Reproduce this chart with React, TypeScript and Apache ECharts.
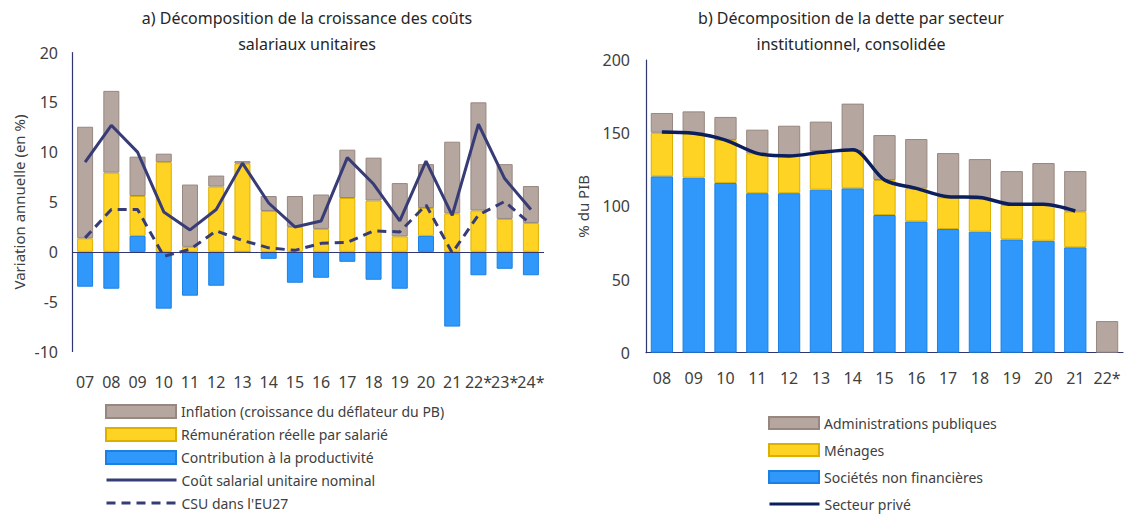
import React, { useEffect, useRef } from "react";
import * as echarts from "echarts";

// ---- Left chart data (a) ----
const catsA = ["07", "08", "09", "10", "11", "12", "13", "14", "15", "16", "17", "18", "19", "20", "21", "22*", "23*", "24*"];
const productivite = [-3.5, -3.7, 1.6, -5.7, -4.4, -3.4, 0, -0.7, -3.1, -2.6, -1.0, -2.8, -3.7, 1.6, -7.5, -2.35, -1.7, -2.35];
const remuneration = [1.35, 7.95, 4.0, 9.0, 0.5, 6.55, 8.85, 4.1, 2.5, 2.3, 5.4, 5.15, 1.55, 2.8, 3.85, 4.15, 3.3, 2.9];
const inflation = [11.2, 8.2, 3.95, 0.85, 6.25, 1.1, 0.25, 1.5, 3.1, 3.45, 4.85, 4.3, 5.35, 4.4, 7.2, 10.85, 5.5, 3.7];
const csuNominal = [9.0, 12.7, 10.0, 4.0, 2.2, 4.25, 8.9, 4.9, 2.5, 3.1, 9.45, 6.8, 3.1, 9.1, 3.65, 12.8, 7.35, 4.25];
const csuEU27 = [1.4, 4.25, 4.25, -0.45, 0.25, 2.1, 1.15, 0.4, 0.15, 0.85, 0.95, 2.1, 2.0, 4.7, -0.1, 3.7, 5.05, 2.75];
const legendA = [
  "Inflation (croissance du déflateur du PB)",
  "Rémunération réelle par salarié",
  "Contribution à la productivité",
  "Coût salarial unitaire nominal",
  "CSU dans l'EU27",
];

// ---- Right chart data (b) ----
const catsB = ["08", "09", "10", "11", "12", "13", "14", "15", "16", "17", "18", "19", "20", "21", "22*"];
const societes = [120.5, 119.6, 116, 109, 109, 111.4, 112.3, 94.1, 89.7, 84.5, 82.7, 77.4, 76.5, 72, null];
const menages = [29.8, 30.3, 29.4, 27.2, 26.1, 26.4, 25.5, 23.9, 22.6, 21.6, 22.3, 23.5, 24.4, 24.4, null];
const administrations = [13.5, 15.0, 15.7, 16.2, 20.0, 20.1, 32.4, 30.7, 33.7, 30.3, 27.3, 23.2, 28.7, 27.7, 21.6];
const secteurPrive = [150.8, 149.9, 145.3, 136.2, 134.4, 136.9, 138.7, 118, 112.3, 106.6, 106.1, 101.4, 101.4, 96.8, null];
const legendB = ["Administrations publiques", "Ménages", "Sociétés non financières", "Secteur privé"];

const FONT = "Noto Sans";
const TXT = "#404040";
const AXIS = "#2f3670";
const GREY = "#b5a69f";
const GREY_B = "#978780";
const YEL = "#ffd324";
const YEL_B = "#dcb000";
const BLUE = "#2f98fa";
const BLUE_B = "#1b80e2";
const NAVY_A = "#373c77";
const NAVY_B = "#0c1f5c";

const lineNames = new Set(["Coût salarial unitaire nominal", "CSU dans l'EU27", "Secteur privé"]);

function legendItem(name: string, left: number, top: number, w: number, h: number) {
  const l: any = {
    left,
    top,
    itemWidth: w,
    itemHeight: h,
    textStyle: { fontFamily: FONT, fontSize: 14, color: TXT },
  };
  if (lineNames.has(name)) {
    l.itemStyle = { opacity: 0 };
    l.lineStyle = { width: 3 };
    l.data = [name];
  } else {
    l.data = [{ name, icon: "rect" }];
  }
  return l;
}

export default function App() {
  const ref = useRef<HTMLDivElement>(null);
  useEffect(() => {
    if (!ref.current) return;
    const chart = echarts.init(ref.current, undefined, { renderer: "svg" });
    const legends: any[] = [];
    legendA.forEach((name, i) => legends.push(legendItem(name, 100, 399 + i * 23, 70, 13)));
    legendB.forEach((name, i) => legends.push(legendItem(name, 763, 411 + i * 27, 50, 12)));
    const option: any = {
      animation: false,
      textStyle: { fontFamily: FONT, color: TXT },
      title: [
        {
          text: "a) Décomposition de la croissance des coûts\nsalariaux unitaires",
          left: 302,
          top: 0,
          textAlign: "center",
          textStyle: { fontFamily: FONT, fontSize: 16, fontWeight: "normal", color: "#262626", lineHeight: 26, align: "center" },
        },
        {
          text: "b) Décomposition de la dette par secteur\ninstitutionnel, consolidée",
          left: 846,
          top: 0,
          textAlign: "center",
          textStyle: { fontFamily: FONT, fontSize: 16, fontWeight: "normal", color: "#262626", lineHeight: 26, align: "center" },
        },
      ],
      legend: legends,
      grid: [
        { left: 72, top: 52.5, width: 472, height: 299 },
        { left: 646, top: 60, width: 477, height: 292.7 },
      ],
      xAxis: [
        {
          type: "category",
          gridIndex: 0,
          data: catsA,
          axisLine: { show: false, onZero: false },
          axisTick: { show: false },
          axisLabel: { color: TXT, fontSize: 16, margin: 22, interval: 0, fontFamily: FONT },
        },
        {
          type: "category",
          gridIndex: 1,
          data: catsB,
          axisLine: { show: true, lineStyle: { color: AXIS, width: 1.2 } },
          axisTick: { show: false },
          axisLabel: { color: TXT, fontSize: 16, margin: 17, interval: 0, fontFamily: FONT },
        },
      ],
      yAxis: [
        {
          type: "value",
          gridIndex: 0,
          min: -10,
          max: 20,
          interval: 5,
          name: "Variation annuelle (en %)",
          nameLocation: "middle",
          nameGap: 46,
          nameTextStyle: { fontSize: 15, color: TXT, fontFamily: FONT },
          axisLine: { show: true, lineStyle: { color: AXIS, width: 1.2 } },
          axisTick: { show: false },
          splitLine: { show: false },
          axisLabel: { color: TXT, fontSize: 16, margin: 14, fontFamily: FONT },
        },
        {
          type: "value",
          gridIndex: 1,
          min: 0,
          max: 200,
          interval: 50,
          name: "% du PIB",
          nameLocation: "middle",
          nameGap: 56,
          nameTextStyle: { fontSize: 15, color: TXT, fontFamily: FONT },
          axisLine: { show: true, lineStyle: { color: AXIS, width: 1.2 } },
          axisTick: { show: false },
          splitLine: { show: false },
          axisLabel: { color: TXT, fontSize: 16, margin: 16, fontFamily: FONT },
        },
      ],
      series: [
        {
          name: "Contribution à la productivité",
          type: "bar",
          stack: "a",
          xAxisIndex: 0,
          yAxisIndex: 0,
          barWidth: "61%",
          data: productivite,
          itemStyle: { color: BLUE, borderColor: BLUE_B, borderWidth: 1 },
          markLine: {
            silent: true,
            symbol: "none",
            label: { show: false },
            lineStyle: { color: AXIS, width: 1.2, type: "solid" },
            data: [{ yAxis: 0 }],
          },
        },
        {
          name: "Rémunération réelle par salarié",
          type: "bar",
          stack: "a",
          xAxisIndex: 0,
          yAxisIndex: 0,
          barWidth: "61%",
          data: remuneration,
          itemStyle: { color: YEL, borderColor: YEL_B, borderWidth: 1 },
        },
        {
          name: "Inflation (croissance du déflateur du PB)",
          type: "bar",
          stack: "a",
          xAxisIndex: 0,
          yAxisIndex: 0,
          barWidth: "61%",
          data: inflation,
          itemStyle: { color: GREY, borderColor: GREY_B, borderWidth: 1 },
        },
        {
          name: "Coût salarial unitaire nominal",
          type: "line",
          xAxisIndex: 0,
          yAxisIndex: 0,
          data: csuNominal,
          symbol: "none",
          lineStyle: { color: NAVY_A, width: 3 },
          itemStyle: { color: NAVY_A },
        },
        {
          name: "CSU dans l'EU27",
          type: "line",
          xAxisIndex: 0,
          yAxisIndex: 0,
          data: csuEU27,
          symbol: "none",
          lineStyle: { color: NAVY_A, width: 3, type: [9, 6] },
          itemStyle: { color: NAVY_A },
        },
        {
          name: "Sociétés non financières",
          type: "bar",
          stack: "b",
          xAxisIndex: 1,
          yAxisIndex: 1,
          barWidth: "70%",
          data: societes,
          itemStyle: { color: BLUE, borderColor: BLUE_B, borderWidth: 1 },
        },
        {
          name: "Ménages",
          type: "bar",
          stack: "b",
          xAxisIndex: 1,
          yAxisIndex: 1,
          barWidth: "70%",
          data: menages,
          itemStyle: { color: YEL, borderColor: YEL_B, borderWidth: 1 },
        },
        {
          name: "Administrations publiques",
          type: "bar",
          stack: "b",
          xAxisIndex: 1,
          yAxisIndex: 1,
          barWidth: "70%",
          data: administrations,
          itemStyle: { color: GREY, borderColor: GREY_B, borderWidth: 1 },
        },
        {
          name: "Secteur privé",
          type: "line",
          xAxisIndex: 1,
          yAxisIndex: 1,
          data: secteurPrive,
          symbol: "none",
          smooth: 0.3,
          lineStyle: { color: NAVY_B, width: 3.5 },
          itemStyle: { color: NAVY_B },
        },
      ],
    };
    chart.setOption(option);
    return () => chart.dispose();
  }, []);
  return (
    <div
      ref={ref}
      style={{ position: "fixed", left: 0, top: 0, width: 1125, height: 515, background: "#fff" }}
    />
  );
}
